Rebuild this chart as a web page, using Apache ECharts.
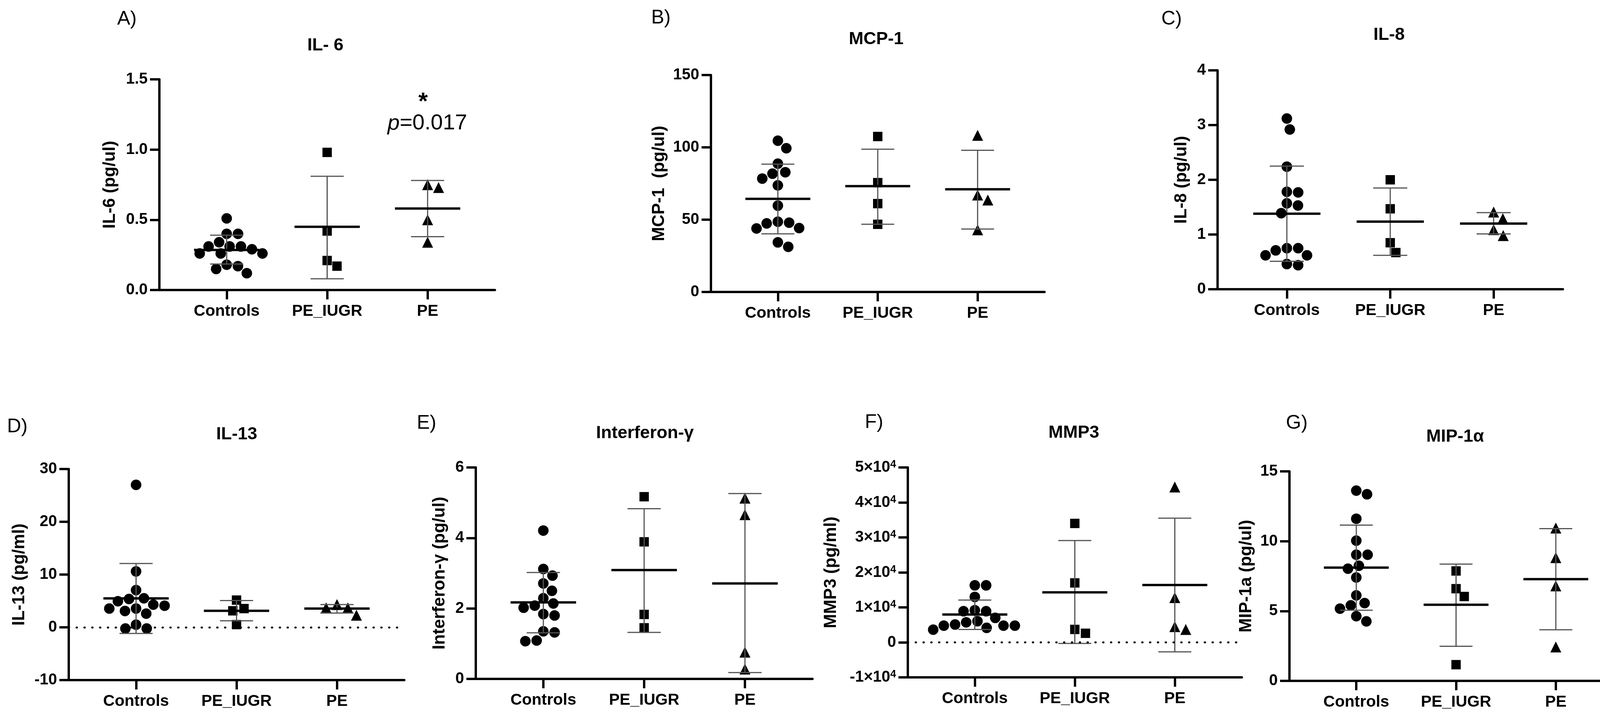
<!DOCTYPE html>
<html>
<head>
<meta charset="utf-8">
<script src="https://cdn.jsdelivr.net/npm/echarts@6/dist/echarts.min.js"></script>
<style>
  html, body { margin: 0; padding: 0; background: #fff; }
  #chart { width: 4171px; height: 1837px; }
</style>
</head>
<body>
<div id="chart"></div>
<script>
const groups = ['Controls', 'PE_IUGR', 'PE'];

// A) IL-6
const il6Controls = [0.51, 0.40, 0.40, 0.34, 0.31, 0.31, 0.31, 0.29, 0.26, 0.26, 0.26, 0.18, 0.17, 0.15, 0.12];
const il6PeIugr = [0.98, 0.42, 0.21, 0.17];
const il6Pe = [0.75, 0.73, 0.50, 0.34];
const il6Mean = [0.285, 0.45, 0.58];
const il6Low = [0.185, 0.08, 0.38];
const il6High = [0.39, 0.81, 0.78];
const il6Ticks = [0, 1.5, 0.5];

// B) MCP-1
const mcpControls = [104.6, 99.4, 88.7, 82.8, 81.8, 78.4, 73.7, 59.7, 48.6, 47.9, 47.4, 44.2, 43.9, 34.3, 31.2];
const mcpPeIugr = [107.5, 75.6, 61.1, 46.8];
const mcpPe = [108.3, 67.0, 63.6, 43.0];
const mcpMean = [64.4, 73.2, 71.0];
const mcpLow = [40.2, 46.8, 43.5];
const mcpHigh = [88.4, 98.7, 98.0];
const mcpTicks = [0, 150, 50];

// C) IL-8
const il8Controls = [3.12, 2.92, 2.24, 1.78, 1.77, 1.57, 1.53, 1.39, 0.75, 0.75, 0.71, 0.62, 0.62, 0.46, 0.44];
const il8PeIugr = [2.0, 1.47, 0.85, 0.67];
const il8Pe = [1.41, 1.29, 1.09, 0.98];
const il8Mean = [1.38, 1.235, 1.20];
const il8Low = [0.51, 0.62, 1.01];
const il8High = [2.25, 1.85, 1.40];
const il8Ticks = [0, 4, 1];

// D) IL-13
const il13Controls = [27.0, 10.6, 7.05, 5.5, 5.37, 4.95, 4.3, 4.1, 3.55, 3.55, 3.1, 2.6, 0.5, -0.23, -0.23];
const il13PeIugr = [5.16, 3.55, 3.13, 0.52];
const il13Pe = [4.31, 3.68, 3.68, 2.29];
const il13Mean = [5.49, 3.13, 3.55];
const il13Low = [-1.16, 1.24, 2.71];
const il13High = [12.1, 5.07, 4.31];
const il13Ticks = [-10, 30, 10];

// E) Interferon-γ
const ifnControls = [4.21, 3.12, 2.93, 2.71, 2.50, 2.29, 2.14, 2.08, 2.02, 1.84, 1.80, 1.35, 1.32, 1.09, 1.07];
const ifnPeIugr = [5.17, 3.89, 1.83, 1.45];
const ifnPe = [5.13, 4.66, 0.76, 0.28];
const ifnMean = [2.17, 3.09, 2.71];
const ifnLow = [1.31, 1.32, 0.18];
const ifnHigh = [3.02, 4.83, 5.26];
const ifnTicks = [0, 6, 2];

// F) MMP3
const mmpControls = [16300, 16300, 13000, 9200, 8900, 8900, 7000, 6050, 5730, 5100, 4780, 4780, 4780, 4150, 3640];
const mmpPeIugr = [34000, 17000, 3700, 2600];
const mmpPe = [44400, 12800, 4500, 3700];
const mmpMean = [7950, 14300, 16400];
const mmpLow = [3700, -300, -2700];
const mmpHigh = [12100, 29100, 35500];
const mmpTicks = [-10000, 50000, 10000];

// G) MIP-1α
const mipControls = [13.62, 13.36, 11.61, 10.04, 9.03, 9.03, 8.24, 8.03, 7.40, 6.12, 5.57, 5.41, 5.17, 4.63, 4.26];
const mipPeIugr = [7.87, 6.60, 6.04, 1.16];
const mipPe = [10.94, 8.82, 6.80, 2.43];
const mipMean = [8.11, 5.45, 7.28];
const mipLow = [5.06, 2.48, 3.66];
const mipHigh = [11.15, 8.36, 10.9];
const mipTicks = [0, 15, 5];

const FONT = "'Liberation Sans', Arial, sans-serif";
const X_MIN = 0.33, X_MAX = 3.67;
const HALF = 0.325, CAP = 0.165;
const SYMBOLS = ['circle', 'rect', 'triangle'];
const SIZES = [27, 24, 28];

const panels = [
  { letter: 'A)', title: 'IL- 6', yName: 'IL-6 (pg/ul)', data: [il6Controls, il6PeIugr, il6Pe], mean: il6Mean, low: il6Low, high: il6High, ticks: il6Ticks,
    grid: { left: 408, top: 203, width: 859, height: 539 }, nameGap: 104, letterPos: [300, 52], titlePos: [833, 120] },
  { letter: 'B)', title: 'MCP-1', yName: 'MCP-1  (pg/ul)', data: [mcpControls, mcpPeIugr, mcpPe], mean: mcpMean, low: mcpLow, high: mcpHigh, ticks: mcpTicks,
    grid: { left: 1820, top: 192, width: 854, height: 555 }, nameGap: 110, letterPos: [1667, 49], titlePos: [2243, 104] },
  { letter: 'C)', title: 'IL-8', yName: 'IL-8 (pg/ul)', data: [il8Controls, il8PeIugr, il8Pe], mean: il8Mean, low: il8Low, high: il8High, ticks: il8Ticks,
    grid: { left: 3117, top: 180, width: 884, height: 560 }, nameGap: 70, letterPos: [2973, 52], titlePos: [3556, 93] },
  { letter: 'D)', title: 'IL-13', yName: 'IL-13 (pg/ml)', data: [il13Controls, il13PeIugr, il13Pe], mean: il13Mean, low: il13Low, high: il13High, ticks: il13Ticks,
    grid: { left: 176, top: 1200, width: 859, height: 540 }, nameGap: 104, letterPos: [18, 1095], titlePos: [606, 1115], zeroLine: true },
  { letter: 'E)', title: 'Interferon-γ', yName: 'Interferon-γ (pg/ul)', data: [ifnControls, ifnPeIugr, ifnPe], mean: ifnMean, low: ifnLow, high: ifnHigh, ticks: ifnTicks,
    grid: { left: 1218, top: 1196, width: 862, height: 541 }, nameGap: 70, letterPos: [1067, 1086], titlePos: [1651, 1112] },
  { letter: 'F)', title: 'MMP3', yName: 'MMP3 (pg/ml)', data: [mmpControls, mmpPeIugr, mmpPe], mean: mmpMean, low: mmpLow, high: mmpHigh, ticks: mmpTicks,
    grid: { left: 2324, top: 1196, width: 855, height: 537 }, nameGap: 174, letterPos: [2214, 1084], titlePos: [2749, 1111], zeroLine: true, sci: true },
  { letter: 'G)', title: 'MIP-1α', yName: 'MIP-1a (pg/ul)', data: [mipControls, mipPeIugr, mipPe], mean: mipMean, low: mipLow, high: mipHigh, ticks: mipTicks,
    grid: { left: 3301, top: 1206, width: 853, height: 536 }, nameGap: 88, letterPos: [3292, 1086], titlePos: [3725, 1121] }
];

// simple beeswarm: place each point at the x offset nearest the centre that does not overlap
const swarm = (values, center, grid, yMin, yMax) => {
  const pxY = grid.height / (yMax - yMin);
  const pxX = grid.width / (X_MAX - X_MIN);
  const d = 29;
  const placed = [];
  const out = [];
  const order = values.map((v, i) => i).sort((a, b) => values[b] - values[a]);
  order.forEach(i => {
    const y = values[i] * pxY;
    const cands = [0];
    placed.forEach(p => {
      const dy = Math.abs(p.y - y);
      if (dy < d) {
        const dx = Math.sqrt(d * d - dy * dy);
        cands.push(p.x + dx, p.x - dx);
      }
    });
    cands.sort((a, b) => Math.abs(a) - Math.abs(b));
    const x = cands.find(c => placed.every(p => (p.x - c) ** 2 + (p.y - y) ** 2 >= d * d - 0.5));
    placed.push({ x, y });
    out[i] = [center + x / pxX, values[i]];
  });
  return out;
};

const renderBars = (params, api) => {
  const x = api.value(0), m = api.value(1), lo = api.value(2), hi = api.value(3);
  const seg = (x1, y1, x2, y2, style) => {
    const a = api.coord([x1, y1]);
    const b = api.coord([x2, y2]);
    return { type: 'line', shape: { x1: a[0], y1: a[1], x2: b[0], y2: b[1] }, style };
  };
  const gray = { stroke: '#555', lineWidth: 3 };
  return {
    type: 'group',
    children: [
      seg(x, lo, x, hi, gray),
      seg(x - CAP, lo, x + CAP, lo, gray),
      seg(x - CAP, hi, x + CAP, hi, gray),
      seg(x - HALF, m, x + HALF, m, { stroke: '#000', lineWidth: 6 })
    ]
  };
};

let grid = [], xAxis = [], yAxis = [], series = [], title = [];
panels.forEach((p, index) => {
  const [yMin, yMax, step] = p.ticks;
  grid.push(p.grid);
  xAxis.push({
    type: 'value',
    gridIndex: index,
    min: X_MIN,
    max: X_MAX,
    splitLine: { show: false },
    axisLine: { show: true, onZero: false, lineStyle: { color: '#000', width: 6 } },
    axisTick: { show: true, customValues: [1, 2, 3], length: 24, lineStyle: { color: '#000', width: 6 } },
    axisLabel: {
      customValues: [1, 2, 3],
      formatter: v => groups[Math.round(v) - 1],
      margin: 34,
      fontSize: 41,
      fontWeight: 'bold',
      color: '#000',
      fontFamily: FONT
    }
  });
  yAxis.push({
    type: 'value',
    gridIndex: index,
    min: yMin,
    max: yMax,
    interval: step,
    name: p.yName,
    nameLocation: 'middle',
    nameRotate: 90,
    nameGap: p.nameGap,
    nameTextStyle: { fontSize: 44, fontWeight: 'bold', color: '#000', fontFamily: FONT },
    splitLine: { show: false },
    axisLine: { show: true, onZero: false, lineStyle: { color: '#000', width: 6 } },
    axisTick: { show: true, length: 24, lineStyle: { color: '#000', width: 6 } },
    axisLabel: {
      margin: 30,
      fontSize: 40,
      fontWeight: 'bold',
      color: '#000',
      fontFamily: FONT,
      formatter: p.sci
        ? v => (v === 0 ? '0' : '{m|' + (v / 10000) + '×10}{e|4}')
        : (yMax < 2 ? v => v.toFixed(1) : v => String(v)),
      rich: {
        m: { fontSize: 40, fontWeight: 'bold', color: '#000', fontFamily: FONT },
        e: { fontSize: 27, fontWeight: 'bold', color: '#000', fontFamily: FONT, verticalAlign: 'top', padding: [0, 0, 14, 0] }
      }
    }
  });
  p.data.forEach((vals, g) => {
    series.push({
      type: 'scatter',
      xAxisIndex: index,
      yAxisIndex: index,
      symbol: SYMBOLS[g],
      symbolSize: SIZES[g],
      itemStyle: { color: '#000', opacity: 1 },
      z: 2,
      data: swarm(vals, g + 1, p.grid, yMin, yMax)
    });
  });
  const bars = {
    type: 'custom',
    xAxisIndex: index,
    yAxisIndex: index,
    z: 3,
    renderItem: renderBars,
    data: groups.map((g, k) => [k + 1, p.mean[k], p.low[k], p.high[k]])
  };
  if (p.zeroLine) {
    bars.markLine = {
      silent: true,
      symbol: 'none',
      label: { show: false },
      lineStyle: { color: '#000', type: [1, 19], width: 5, cap: 'round', opacity: 1 },
      data: [{ yAxis: 0 }]
    };
  }
  series.push(bars);
  title.push({
    text: p.title,
    left: p.titlePos[0],
    top: p.titlePos[1] - 26,
    textAlign: 'center',
    padding: 0,
    textStyle: { fontSize: 45, fontWeight: 'bold', color: '#000', fontFamily: FONT }
  });
  title.push({
    text: p.letter,
    left: p.letterPos[0],
    top: p.letterPos[1] - 28,
    padding: 0,
    textStyle: { fontSize: 50, fontWeight: 'normal', color: '#000', fontFamily: FONT }
  });
});

const chart = echarts.init(document.getElementById('chart'));
chart.setOption({
  backgroundColor: '#fff',
  animation: false,
  title,
  grid,
  xAxis,
  yAxis,
  series,
  graphic: [
    {
      type: 'text', x: 1083, y: 262,
      style: { text: '*', fontSize: 62, fontWeight: 'bold', fontFamily: FONT, fill: '#000', align: 'center', verticalAlign: 'middle' }
    },
    {
      type: 'text', x: 1094, y: 316,
      style: {
        text: '{i|p}{n|=0.017}',
        align: 'center',
        verticalAlign: 'middle',
        rich: {
          i: { fontSize: 56, fontStyle: 'italic', fontFamily: FONT, fill: '#000' },
          n: { fontSize: 56, fontFamily: FONT, fill: '#000' }
        }
      }
    }
  ]
});
</script>
</body>
</html>
